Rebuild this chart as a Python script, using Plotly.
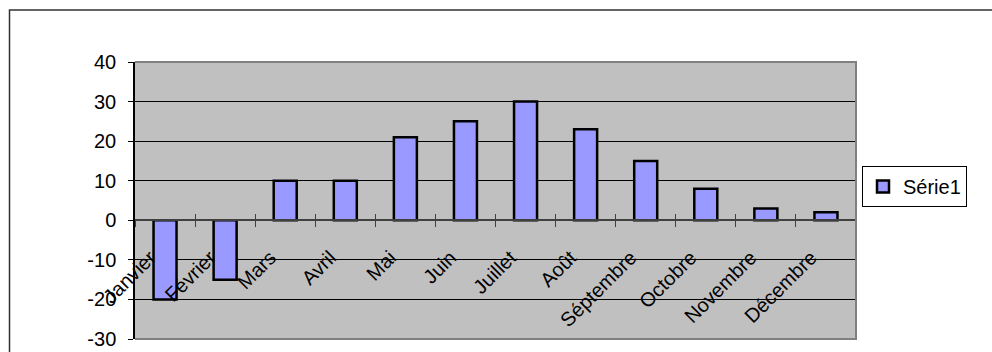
import plotly.graph_objects as go

months = ["Janvier", "Février", "Mars", "Avril", "Mai", "Juin", "Juillet",
          "Août", "Séptembre", "Octobre", "Novembre", "Décembre"]
values = [-20, -15, 10, 10, 21, 25, 30, 23, 15, 8, 3, 2]
series_name = "Série1"
y_ticks = [-30, -20, -10, 0, 10, 20, 30, 40]
y_tick_text = [str(v) for v in y_ticks]

FONT = "Liberation Sans, Arial, sans-serif"
FS = 20
W, H = 992, 352
ML, MR, MT, MB = 135, 136, 62, 13
PW, PH = W - ML - MR, H - MT - MB

ymin, ymax = y_ticks[0], y_ticks[-1]
zero_pos = (0 - ymin) / (ymax - ymin)


def px_x(p):
    return (p - ML) / PW


def px_y(p):
    return (H - MB - p) / PH


fig = go.Figure()
fig.add_trace(go.Bar(
    x=months, y=values, name=series_name,
    marker=dict(color="#9999FF", line=dict(color="black", width=2.5)),
    showlegend=True,
))
fig.add_trace(go.Scatter(
    x=months, y=values, xaxis="x2", mode="markers",
    marker=dict(opacity=0), showlegend=False, hoverinfo="skip",
))

fig.update_layout(
    width=W, height=H,
    margin=dict(l=ML, r=MR, t=MT, b=MB, pad=0, autoexpand=False),
    paper_bgcolor="white", plot_bgcolor="#C0C0C0",
    font=dict(family=FONT, size=FS, color="black"),
    bargap=0.617,
    showlegend=True,
    legend=dict(
        x=px_x(862), y=px_y(166), xanchor="left", yanchor="top",
        bordercolor="black", borderwidth=1, bgcolor="white",
        font=dict(family=FONT, size=FS), itemwidth=30,
        tracegroupgap=0,
    ),
    xaxis=dict(
        type="category", anchor="free", position=zero_pos,
        range=[-0.5, len(months) - 0.5], automargin=False,
        showline=True, linecolor="#404040", linewidth=1.5,
        ticks="outside", ticklen=6, tickcolor="#404040", tickwidth=1,
        tickson="boundaries", tickangle=-45,
        showgrid=False, zeroline=False,
        ticklabelstandoff=17, ticklabelshift=-15,
        tickfont=dict(family=FONT, size=FS),
    ),
    xaxis2=dict(
        type="category", overlaying="x", anchor="free", position=zero_pos,
        range=[-0.5, len(months) - 0.5], side="bottom", automargin=False,
        showline=False, ticks="inside", ticklen=6, tickcolor="#404040",
        tickwidth=1, tickson="boundaries", showticklabels=False,
        showgrid=False, zeroline=False,
    ),
    yaxis=dict(
        range=[ymin, ymax], tickvals=y_ticks, ticktext=y_tick_text,
        automargin=False,
        showline=True, linecolor="black", linewidth=1.5,
        ticks="outside", ticklen=5, tickcolor="black",
        showgrid=True, gridcolor="black", gridwidth=1,
        zeroline=False, ticklabelstandoff=8,
        tickfont=dict(family=FONT, size=FS),
    ),
    shapes=[
        dict(type="path", xref="paper", yref="paper",
             path="M0,0 L1,0 L1,1 L0,1",
             line=dict(color="#808080", width=2), layer="above"),
        dict(type="rect", xref="paper", yref="paper",
             x0=px_x(9.5), x1=px_x(1010), y0=px_y(10), y1=px_y(370),
             line=dict(color="#333333", width=1.5), layer="below"),
    ],
)

fig.write_html("out.html")
